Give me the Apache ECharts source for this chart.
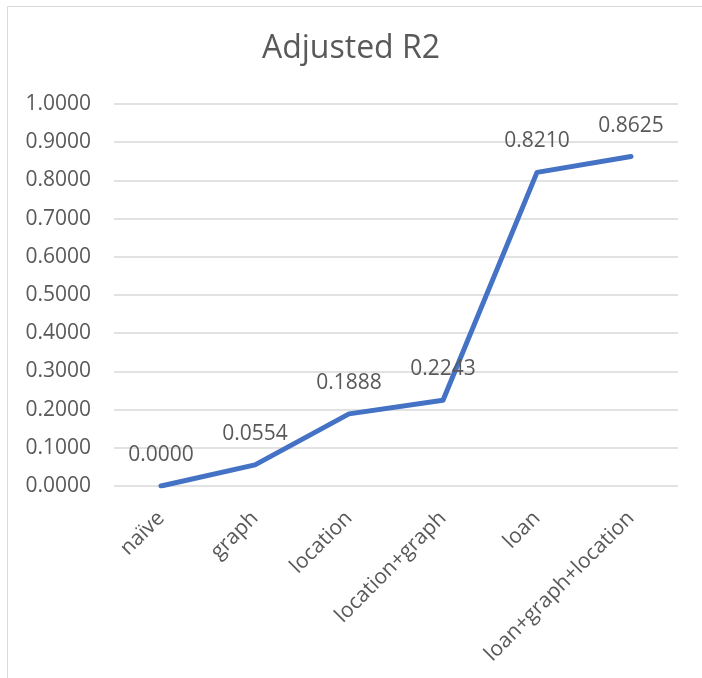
<!DOCTYPE html>
<html>
<head>
<meta charset="utf-8">
<script src="https://cdn.jsdelivr.net/npm/echarts@6/dist/echarts.min.js"></script>
<style>
  html, body { margin: 0; padding: 0; background: #fff; }
  #chart { width: 702px; height: 678px; }
</style>
</head>
<body>
<div id="chart"></div>
<script>
const categories = ['naïve', 'graph', 'location', 'location+graph', 'loan', 'loan+graph+location']
const adjR2 = [0.0000, 0.0554, 0.1888, 0.2243, 0.8210, 0.8625]

const textColor = '#595959'
const gridColor = '#d9d9d9'
const font = 'Open Sans'

const chart = echarts.init(document.getElementById('chart'))
chart.setOption({
  backgroundColor: '#fff',
  animation: false,
  title: {
    text: 'Adjusted R2',
    left: 'center',
    top: 28,
    textStyle: { color: textColor, fontSize: 32, fontWeight: 'normal', fontFamily: font }
  },
  graphic: [{
    type: 'rect',
    shape: { x: 7.5, y: 6.5, width: 720, height: 700 },
    style: { fill: 'none', stroke: gridColor, lineWidth: 1 },
    silent: true
  }],
  grid: { left: 114, right: 24, top: 104, bottom: 192 },
  xAxis: {
    type: 'category',
    data: categories,
    boundaryGap: true,
    axisLine: { show: false },
    axisTick: { show: false },
    axisLabel: {
      interval: 0,
      rotate: 45,
      margin: 29,
      color: textColor,
      fontSize: 21,
      fontFamily: font
    }
  },
  yAxis: {
    type: 'value',
    min: 0,
    max: 1,
    interval: 0.1,
    axisLine: { show: false },
    axisTick: { show: false },
    splitLine: { lineStyle: { color: gridColor, width: 1.5 } },
    axisLabel: {
      margin: 23,
      color: textColor,
      fontSize: 21,
      fontFamily: font,
      formatter: v => v.toFixed(4)
    }
  },
  series: [{
    type: 'line',
    data: adjR2,
    symbol: 'circle',
    symbolSize: 1,
    itemStyle: { color: '#4472C4' },
    lineStyle: { color: '#4472C4', width: 5, cap: 'round', join: 'round' },
    label: {
      show: true,
      position: 'top',
      distance: 20,
      color: textColor,
      fontSize: 21,
      fontFamily: font,
      formatter: p => p.value.toFixed(4)
    },
    emphasis: { disabled: true }
  }]
})
</script>
</body>
</html>
